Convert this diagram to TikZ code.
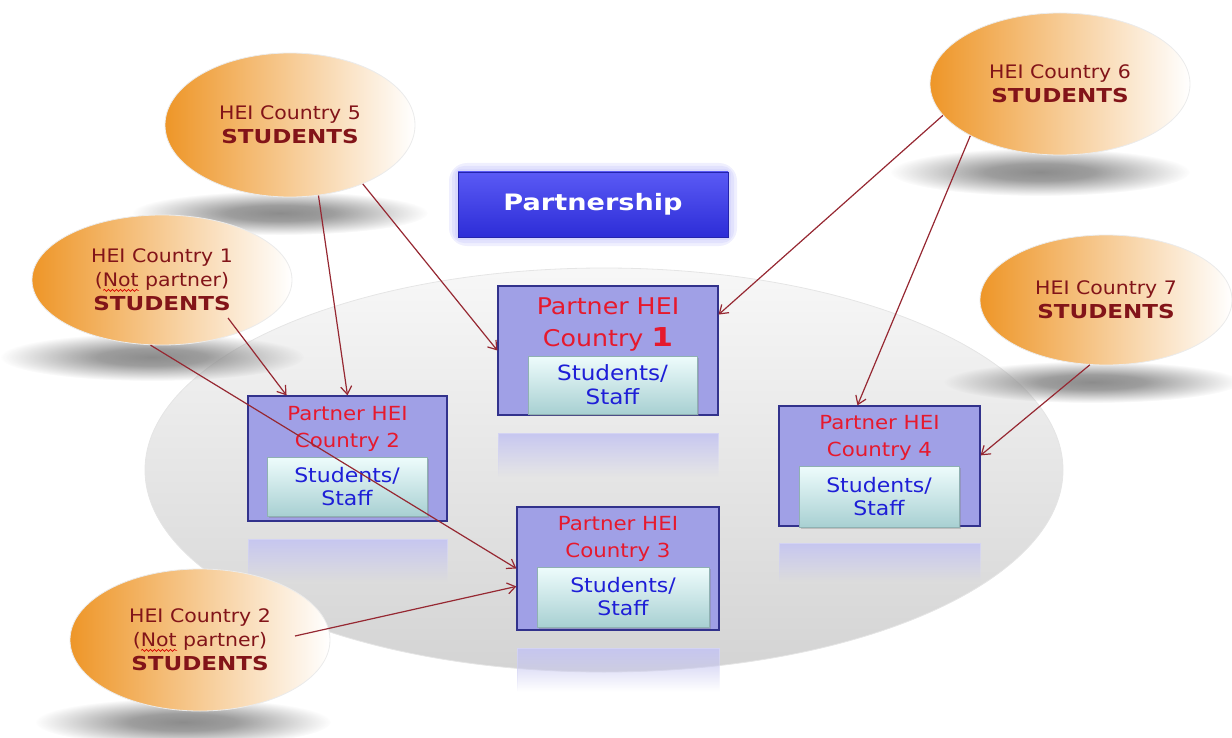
\documentclass[tikz,border=0pt]{standalone}
\usepackage{fontspec}
\setmainfont{DejaVu Sans}[FakeStretch=1.1]
\newfontfamily\heavy{DejaVu Sans Bold}[FakeStretch=1.2]
\usetikzlibrary{arrows.meta,shapes.geometric,positioning,calc,fadings,shadows,decorations.pathmorphing}

\definecolor{heitext}{RGB}{130,20,25}
\definecolor{heiorange}{RGB}{238,150,40}
\definecolor{arrowred}{RGB}{150,40,50}
\definecolor{lavender}{RGB}{160,160,230}
\definecolor{boxline}{RGB}{50,50,140}
\definecolor{partred}{RGB}{230,25,45}
\definecolor{staffblue}{RGB}{30,30,215}
\definecolor{tealtop}{RGB}{238,252,252}
\definecolor{tealbot}{RGB}{168,208,210}
\definecolor{ptop}{RGB}{90,90,245}
\definecolor{pbot}{RGB}{45,45,215}

% soft blur for the shadows
\pgfdeclareradialshading{softblur}{\pgfpointorigin}{color(0bp)=(pgftransparent!0); color(9bp)=(pgftransparent!15); color(25bp)=(pgftransparent!100); color(50bp)=(pgftransparent!100)}
\pgfdeclarefading{soft ellipse}{\pgfuseshading{softblur}}

% red spell-check wave under a word
\newcommand\spellnot[1]{\setbox0\hbox{#1}\rlap{\tikz[baseline=0pt]\draw[red!85!black,line width=0.35pt,decorate,decoration={snake,amplitude=0.5pt,segment length=2pt}] (0pt,-1.8pt) -- (\wd0,-1.8pt);}\box0\relax}
\newcommand\stud{{\heavy\fontsize{9.6}{12}\selectfont STUDENTS}}

\tikzstyle{hei}=[ellipse,left color=heiorange,right color=white,draw=black!8,text=heitext,align=center,inner sep=0pt,font=\fontsize{9.3}{12}\selectfont]
\tikzstyle{shade}=[fill=black!45,path fading=soft ellipse]
\tikzstyle{partner}=[rectangle,fill=lavender,draw=boxline,line width=0.6pt]
\tikzstyle{ptitle}=[inner sep=0pt,align=center,text=partred]
\tikzstyle{staff}=[rectangle,top color=tealtop,bottom color=tealbot,draw=tealbot!85!black,line width=0.4pt,text=staffblue,align=center,inner sep=0pt,font=\fontsize{10}{11.5}\selectfont,drop shadow={opacity=0.35,shadow xshift=0.8pt,shadow yshift=-0.8pt}]
\tikzstyle{mirror}=[rectangle,fill=lavender!60,draw=lavender!45!white,path fading=south]
\tikzstyle{glow}=[fill=ptop!45,opacity=0.22]
\tikzstyle{link}=[draw=arrowred,line width=0.6pt,-{Straight Barb[length=4pt,width=5.5pt]}]

\begin{document}
\begin{tikzpicture}[x=0.5pt,y=-0.5pt]
        \useasboundingbox (0,0) rectangle (1232,738);
        % lens behind the partners
        \draw[black!10,top color=black!3,bottom color=black!17] (604,470) ellipse [x radius=459, y radius=202];
        % shadows under the HEI ellipses
        \foreach \cx/\cy/\rx/\ry in {280/213/148/22,152/357/152/24,1040/172/150/24,1092/382/148/21,183/722/148/24}
          \fill[shade] (\cx,\cy) ellipse [x radius=\rx, y radius=\ry];
        % title
        \foreach \g in {9,6,3}
          \fill[glow,rounded corners=\g] (458-\g,172-\g) rectangle (728+\g,237+\g);
        \node[rectangle,top color=ptop,bottom color=pbot,draw=pbot!80!black,text=white,minimum width=135pt,minimum height=32.5pt,font=\heavy\fontsize{11.3}{13}\selectfont] (pt) at (593,204.5) {Partnership};
        % partner HEIs
        \node[partner,minimum width=110pt,minimum height=64.5pt] (p1) at (608,350.5) {};
        \node[partner,minimum width=99.5pt,minimum height=62.5pt] (p2) at (347.5,458.5) {};
        \node[partner,minimum width=101pt,minimum height=61.5pt] (p3) at (618,568.5) {};
        \node[partner,minimum width=100.5pt,minimum height=60pt] (p4) at (879.5,466) {};
        \node[ptitle,font=\fontsize{11.5}{16}\selectfont,below=6pt of p1.north] (t1) {Partner HEI\\Country {\heavy\fontsize{13}{16}\selectfont 1}};
        \node[ptitle,font=\fontsize{9.7}{13.5}\selectfont,below=5.5pt of p2.north] (t2) {Partner HEI\\Country 2};
        \node[ptitle,font=\fontsize{9.7}{13.5}\selectfont,below=5pt of p3.north] (t3) {Partner HEI\\Country 3};
        \node[ptitle,font=\fontsize{9.7}{13.5}\selectfont,below=5pt of p4.north] (t4) {Partner HEI\\Country 4};
        \node[staff,minimum width=84.5pt,minimum height=29pt,font=\fontsize{10.5}{12}\selectfont] (s1) at (612.5,385) {Students/\\Staff};
        \node[staff,minimum width=80pt,minimum height=29.5pt] (s2) at (347,486.5) {Students/\\Staff};
        \node[staff,minimum width=86pt,minimum height=30pt] (s3) at (623,597) {Students/\\Staff};
        \node[staff,minimum width=80pt,minimum height=30.5pt] (s4) at (879,496.5) {Students/\\Staff};
        \node[mirror,minimum width=110pt,minimum height=21.5pt,below=8.5pt of p1] (r1) {};
        \node[mirror,minimum width=99.5pt,minimum height=21pt,below=8.5pt of p2] (r2) {};
        \node[mirror,minimum width=101pt,minimum height=21.5pt,below=8.5pt of p3] (r3) {};
        \node[mirror,minimum width=100.5pt,minimum height=19pt,below=8pt of p4] (r4) {};
        % sending HEIs
        \node[hei,minimum width=125pt,minimum height=72pt] (h5) at (290,125) {HEI Country 5\\\stud};
        \node[hei,minimum width=130pt,minimum height=65pt] (h1) at (162,280) {HEI Country 1\\(\spellnot{Not} partner)\\\stud};
        \node[hei,minimum width=130pt,minimum height=71pt] (h6) at (1060,84) {HEI Country 6\\\stud};
        \node[hei,minimum width=126pt,minimum height=65pt] (h7) at (1106,300) {HEI Country 7\\\stud};
        \node[hei,minimum width=130pt,minimum height=71pt] (h2) at (200,640) {HEI Country 2\\(\spellnot{Not} partner)\\\stud};
        % mobility flows
        \draw[link] (h5.-68) -- (p2.north);
        \draw[link] (h5.-39) -- (p1.west);
        \draw[link] ($(h1.center)+(66,38)$) -- (p2.134);
        \draw[link] (h1.-100) -- (p3.west);
        \draw[link] (h6.195) -- (p1.18);
        \draw[link] (h6.210) -- (p4.110);
        \draw[link] (h7.-104) -- (p4.6);
        \draw[link] ($(h2.center)+(95,-4)$) -- (p3.190);
      \end{tikzpicture}
\end{document}
